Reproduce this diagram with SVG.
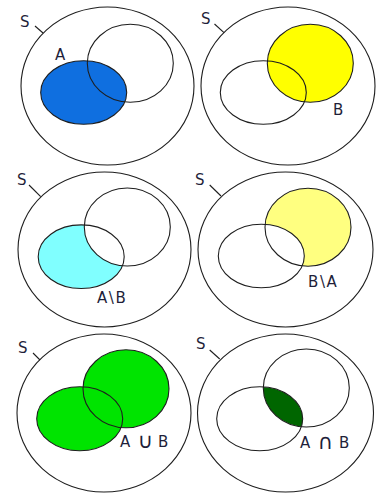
<svg xmlns="http://www.w3.org/2000/svg" width="376" height="493" viewBox="0 0 376 493">
  <style>
    .s { fill: none; stroke: #1e1e1e; stroke-width: 1.1; }
    .o { fill: none; stroke: #1e1e1e; stroke-width: 1.1; }
    .lead { stroke: #1e1e1e; stroke-width: 1.1; fill: none; }
    .lbl { font-family: "DejaVu Sans", Verdana, sans-serif; font-size: 15px; fill: #1f1f3a; }
    .diff { letter-spacing: 1.6px; }
    .op { font-size: 21px; }
    .blank { fill: #ffffff; }
  </style>
  <rect width="376" height="493" fill="#ffffff"/>

  <!-- A highlighted -->
  <g id="set-a">
    <ellipse class="s" cx="107.5" cy="86" rx="86.5" ry="79"/>
    <ellipse cx="83.7" cy="92.5" rx="43" ry="31.8" fill="#0f6fe0"/>
    <ellipse class="o" cx="83.7" cy="92.5" rx="43" ry="31.8"/>
    <ellipse class="o" cx="130.3" cy="63.3" rx="43" ry="39"/>
    <text class="lbl" x="20" y="27">S</text>
    <text class="lbl" x="55" y="60">A</text>
  </g>

  <!-- B highlighted -->
  <g id="set-b">
    <ellipse class="s" cx="288" cy="86" rx="87" ry="79"/>
    <ellipse cx="310.3" cy="63.3" rx="43" ry="39" fill="#ffff00"/>
    <ellipse class="o" cx="263.3" cy="92.5" rx="43" ry="31.8"/>
    <ellipse class="o" cx="310.3" cy="63.3" rx="43" ry="39"/>
    <text class="lbl" x="201" y="24">S</text>
    <text class="lbl" x="333" y="115">B</text>
  </g>

  <!-- A minus B -->
  <g id="a-minus-b">
    <ellipse class="s" cx="104.5" cy="249.5" rx="86.5" ry="77.5"/>
    <ellipse cx="81.2" cy="256.7" rx="43" ry="31.8" fill="#80ffff"/>
    <ellipse class="blank" cx="127.3" cy="227" rx="43" ry="39"/>
    <ellipse class="o" cx="81.2" cy="256.7" rx="43" ry="31.8"/>
    <ellipse class="o" cx="127.3" cy="227" rx="43" ry="39"/>
    <text class="lbl" x="17" y="185">S</text>
    <text class="lbl diff" x="97" y="303">A\B</text>
  </g>

  <!-- B minus A -->
  <g id="b-minus-a">
    <ellipse class="s" cx="285.5" cy="249.5" rx="87.5" ry="77.5"/>
    <ellipse cx="308" cy="227.2" rx="43" ry="39" fill="#ffff80"/>
    <ellipse class="blank" cx="261.3" cy="256" rx="43" ry="31.8"/>
    <ellipse class="o" cx="261.3" cy="256" rx="43" ry="31.8"/>
    <ellipse class="o" cx="308" cy="227.2" rx="43" ry="39"/>
    <text class="lbl" x="195" y="185">S</text>
    <text class="lbl diff" x="308" y="287">B\A</text>
  </g>

  <!-- union -->
  <g id="a-union-b">
    <ellipse class="s" cx="104" cy="413" rx="87" ry="79"/>
    <ellipse cx="79.7" cy="418.8" rx="43" ry="32" fill="#00e400"/>
    <ellipse cx="126" cy="388.8" rx="43" ry="39" fill="#00e400"/>
    <ellipse class="o" cx="79.7" cy="418.8" rx="43" ry="32"/>
    <ellipse class="o" cx="126" cy="388.8" rx="43" ry="39"/>
    <text class="lbl" x="18" y="353">S</text>
    <text class="lbl" y="447"><tspan x="120">A</tspan><tspan class="op" x="137.5" dy="0.5">∪</tspan><tspan x="158" dy="-0.5">B</tspan></text>
  </g>

  <!-- intersection -->
  <g id="a-intersect-b">
    <defs>
      <clipPath id="clip-b6">
        <ellipse cx="306.3" cy="388" rx="43" ry="39"/>
      </clipPath>
    </defs>
    <ellipse class="s" cx="285.5" cy="413" rx="88" ry="79"/>
    <ellipse cx="259.7" cy="418.8" rx="43" ry="32" fill="#006600" clip-path="url(#clip-b6)"/>
    <ellipse class="o" cx="259.7" cy="418.8" rx="43" ry="32"/>
    <ellipse class="o" cx="306.3" cy="388" rx="43" ry="39"/>
    <text class="lbl" x="196" y="349">S</text>
    <text class="lbl" y="448"><tspan x="300">A</tspan><tspan class="op" x="317.5" dy="0.5">∩</tspan><tspan x="339" dy="-0.5">B</tspan></text>
  </g>

  <!-- leader ticks from each S label to its universe outline -->
  <g id="leaders">
    <line class="lead" x1="35" y1="26" x2="43" y2="33"/>
    <line class="lead" x1="214.5" y1="24" x2="224" y2="32.7"/>
    <line class="lead" x1="29" y1="185" x2="40.7" y2="196.7"/>
    <line class="lead" x1="209.7" y1="185" x2="221" y2="196"/>
    <line class="lead" x1="33" y1="353" x2="40" y2="360"/>
    <line class="lead" x1="209.7" y1="350" x2="219.7" y2="359"/>
  </g>
</svg>
